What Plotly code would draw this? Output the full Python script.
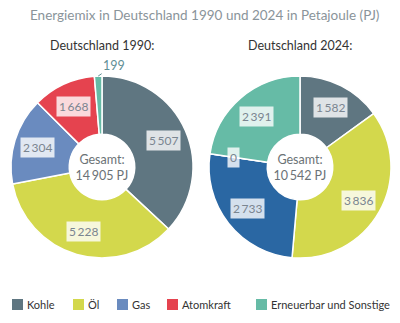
import math
import plotly.graph_objects as go

CATEGORIES = ["Kohle", "Öl", "Gas", "Atomkraft", "Erneuerbar und Sonstige"]
VALUES_1990 = [5507, 5228, 2304, 1668, 199]
VALUES_2024 = [1582, 3836, 2733, 0, 2391]
TOTALS = [14905, 10542]
SUBTITLES = ["Deutschland 1990:", "Deutschland 2024:"]
COLORS_1990 = ["#5f7681", "#d3d84c", "#6a8bbf", "#e5434f", "#66bba6"]
COLORS_2024 = ["#5f7681", "#d3d84c", "#2a67a3", "#e5434f", "#66bba6"]
TITLE = "Energiemix in Deutschland 1990 und 2024 in Petajoule (PJ)"

W, H = 400, 323
FONT = "Lato"
R = 91
HOLE = 0.36
CENTERS = [(102, 167), (300, 167)]
LABEL_R = 67


def fmt(v):
    return f"{v:,}".replace(",", "\u2009")


def px(x):
    return x / W


def py(y):
    return (H - y) / H


fig = go.Figure()
annotations = []
shapes = []

for k, (vals, cols) in enumerate([(VALUES_1990, COLORS_1990), (VALUES_2024, COLORS_2024)]):
    cx, cy = CENTERS[k]
    fig.add_trace(go.Pie(
        labels=CATEGORIES, values=vals, sort=False, direction="clockwise", rotation=0,
        hole=HOLE, marker=dict(colors=cols, line=dict(color="white", width=1.5)),
        textinfo="none", hoverinfo="label+value", showlegend=False,
        domain=dict(x=[px(cx - R), px(cx + R)], y=[py(cy + R), py(cy - R)]),
        title=dict(text=f"Gesamt:<br>{fmt(TOTALS[k])} PJ", position="middle center",
                   font=dict(family=FONT, size=12.5, color="#6b7276")),
    ))
    total = sum(vals)
    cum = 0
    for v, c in zip(vals, cols):
        mid = (cum + v / 2) / total * 2 * math.pi
        cum += v
        if 0 < v / total < 0.02:
            tx = cx + R * math.sin(mid)
            ty = cy - R * math.cos(mid)
            annotations.append(dict(
                x=px(tx), y=py(ty), xref="paper", yref="paper", text=fmt(v),
                xanchor="center", yanchor="middle",
                showarrow=True, arrowhead=0, arrowwidth=1, arrowcolor="#5f8f96",
                ax=16, ay=-11, standoff=0,
                font=dict(family=FONT, size=12.5, color="#5f8f96")))
        else:
            lx = cx + LABEL_R * math.sin(mid)
            ly = cy - LABEL_R * math.cos(mid)
            annotations.append(dict(
                x=px(lx), y=py(ly), xref="paper", yref="paper", text=fmt(v),
                xanchor="center", yanchor="middle",
                showarrow=False, bgcolor="rgba(255,255,255,0.8)", borderpad=2,
                font=dict(family=FONT, size=12, color="#7a8590")))
    annotations.append(dict(
        x=px(cx), y=py(45), xref="paper", yref="paper", text=SUBTITLES[k],
        xanchor="center", yanchor="middle",
        showarrow=False, font=dict(family=FONT, size=12.5, color="#333333")))

annotations.append(dict(
    x=px(204), y=py(15), xref="paper", yref="paper", text=TITLE, showarrow=False,
    xanchor="center", yanchor="middle",
    font=dict(family=FONT, size=13.5, color="#8a949a")))

# legend
LEG_X = [12, 73, 117, 167, 256]
for x0, name, col in zip(LEG_X, CATEGORIES, COLORS_1990):
    shapes.append(dict(type="rect", xref="paper", yref="paper",
                       x0=px(x0), x1=px(x0 + 11), y0=py(310), y1=py(299),
                       fillcolor=col, line=dict(width=0)))
    annotations.append(dict(
        x=px(x0 + 13), y=py(304.5), xref="paper", yref="paper", text=name,
        xanchor="left", yanchor="middle", showarrow=False,
        font=dict(family=FONT, size=11, color="#333333")))

fig.update_layout(
    width=W, height=H, margin=dict(l=0, r=0, t=0, b=0),
    paper_bgcolor="white", plot_bgcolor="white",
    annotations=annotations, shapes=shapes,
    font=dict(family=FONT),
)

fig.write_html("out.html")
